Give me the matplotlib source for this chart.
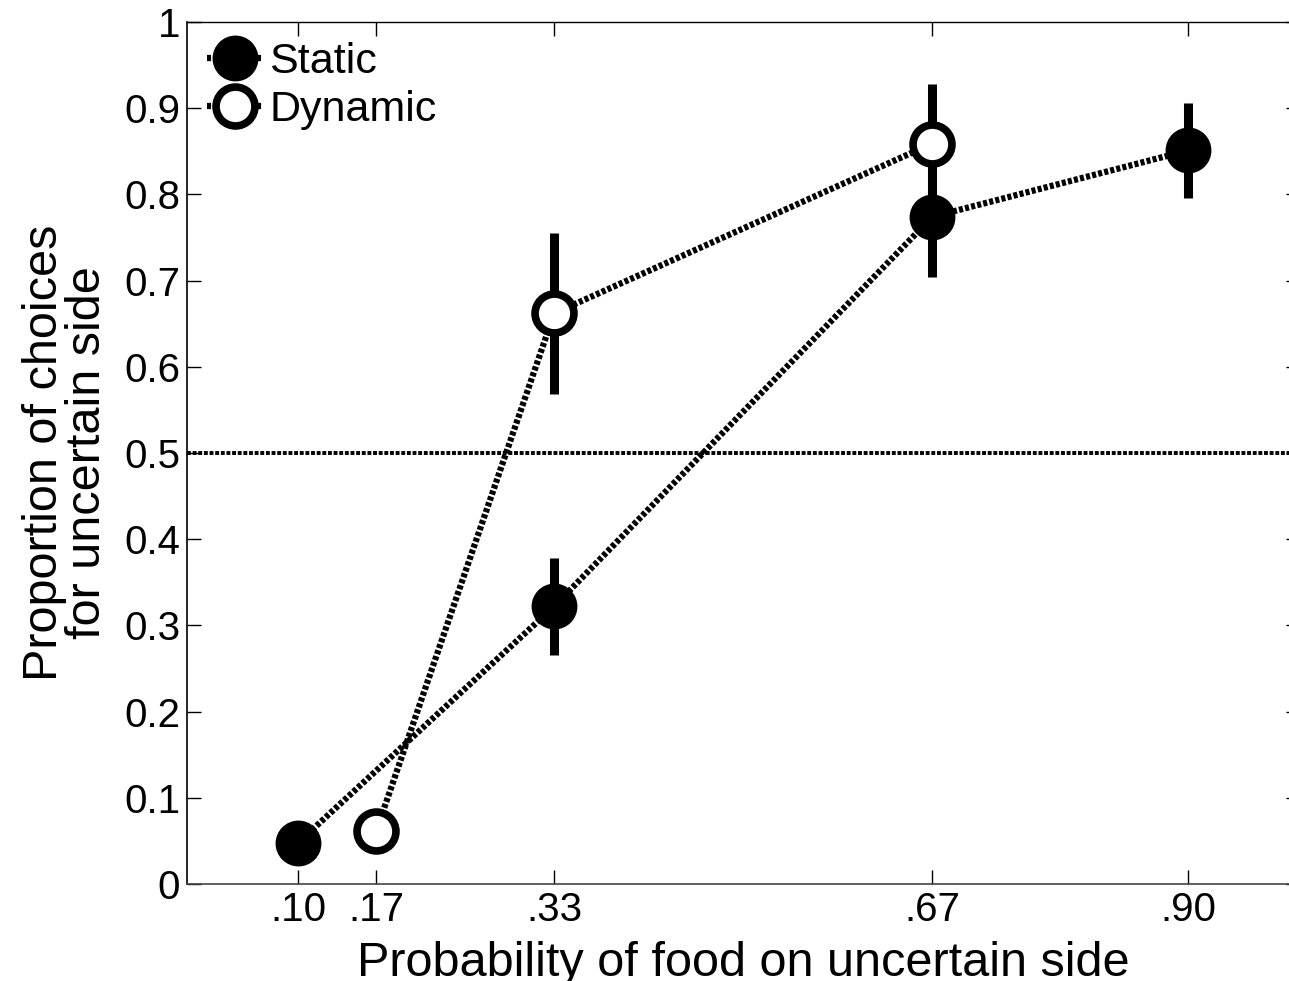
import matplotlib
matplotlib.use("Agg")
import matplotlib.pyplot as plt

plt.rcParams['font.family'] = ['Liberation Sans', 'DejaVu Sans']

# probabilities of food on the uncertain side
static_x = [0.10, 0.33, 0.67, 0.90]
static_y = [0.048, 0.322, 0.774, 0.851]
static_err = [0.01, 0.056, 0.070, 0.055]

dynamic_x = [0.17, 0.33, 0.67]
dynamic_y = [0.061, 0.662, 0.859]
dynamic_err = [0.01, 0.093, 0.069]

xticks = [0.10, 0.17, 0.33, 0.67, 0.90]
xtick_labels = [".10", ".17", ".33", ".67", ".90"]
yticks = [0, 0.1, 0.2, 0.3, 0.4, 0.5, 0.6, 0.7, 0.8, 0.9, 1]
ytick_labels = ["0", "0.1", "0.2", "0.3", "0.4", "0.5", "0.6", "0.7", "0.8", "0.9", "1"]

TICK_FS = 29
LABEL_FS = 35
LEG_FS = 31
dots = (0, (0.65, 0.35))

fig = plt.figure(figsize=(12.89, 9.81), dpi=100)
ax = fig.add_axes([187 / 1289, 1 - 884 / 981, 1112.5 / 1289, 862 / 981])

ax.axhline(0.5, color="black", lw=2.8, ls=(0, (1.0, 0.45)), zorder=1)

# error bars first, markers on top
ax.errorbar(static_x, static_y, yerr=static_err, fmt="none", ecolor="black",
            elinewidth=6.5, capsize=0, zorder=2)
ax.errorbar(dynamic_x, dynamic_y, yerr=dynamic_err, fmt="none", ecolor="black",
            elinewidth=6.5, capsize=0, zorder=2)

ax.plot(static_x, static_y, color="black", lw=4.5, ls=dots,
        dash_capstyle="butt", marker="o", ms=32, mfc="black", mec="black",
        mew=1, label="Static", zorder=3)
ax.plot(dynamic_x, dynamic_y, color="black", lw=4.5, ls=dots,
        dash_capstyle="butt", marker="o", ms=28, mfc="white", mec="black",
        mew=5.5, label="Dynamic", zorder=4)

ax.set_xlim(0, 1)
ax.set_ylim(0, 1)
ax.set_xticks(xticks)
ax.set_xticklabels(xtick_labels)
ax.set_yticks(yticks)
ax.set_yticklabels(ytick_labels)
ax.tick_params(direction="in", length=10, width=1, labelsize=TICK_FS,
               top=True, right=True, pad=5)

for s in ("left", "bottom", "right"):
    ax.spines[s].set_linewidth(1.2)
ax.spines["bottom"].set_color("#444444")
ax.spines["top"].set_linewidth(1)
ax.spines["top"].set_linestyle((0, (3, 1)))

ax.set_xlabel("Probability of food on uncertain side", fontsize=LABEL_FS,
              labelpad=9)
ax.set_ylabel("Proportion of choices\nfor uncertain side", fontsize=LABEL_FS,
              labelpad=10, linespacing=0.95)

leg = ax.legend(loc="upper left", bbox_to_anchor=(0.018, 0.977), frameon=False,
                fontsize=LEG_FS, handlelength=1.3, handletextpad=0.15,
                labelspacing=0.2, borderaxespad=0, borderpad=0)

fig.savefig("out.png", dpi=100)
